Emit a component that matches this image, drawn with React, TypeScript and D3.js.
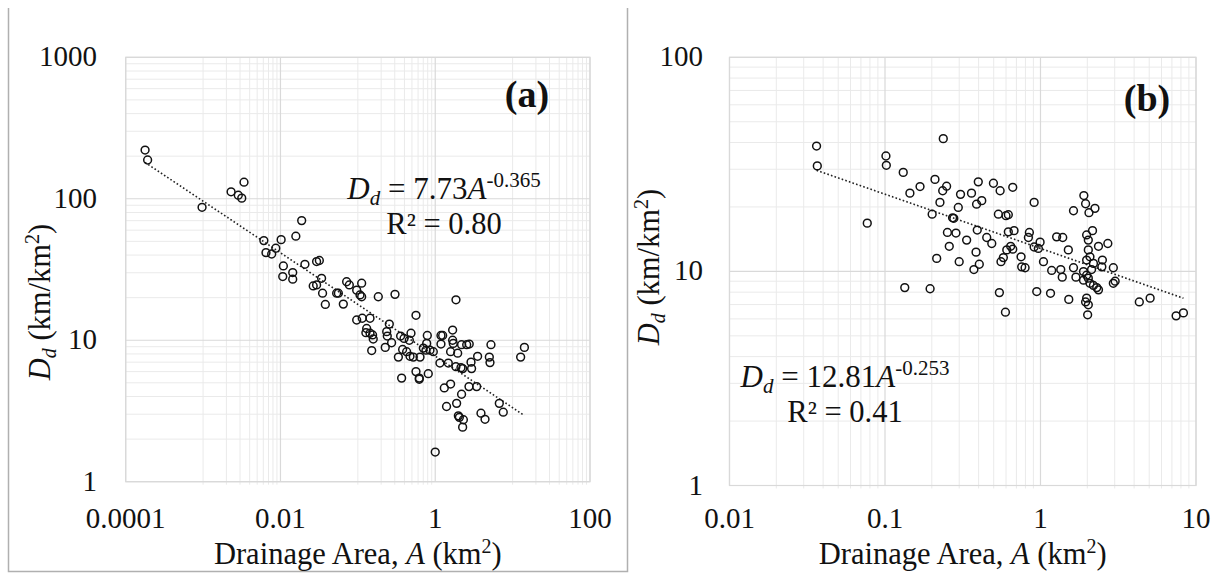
import React from 'react';
import * as d3 from 'd3';

// ---------- Panel (a) data ----------
const areaA = [0.000178, 0.000192, 0.00097, 0.0023, 0.00285, 0.00316, 0.00338, 0.0061, 0.0065, 0.0077, 0.0087, 0.0102, 0.0158, 0.0188, 0.0109, 0.0107, 0.0144, 0.0144, 0.0207, 0.0293, 0.0318, 0.034, 0.0293, 0.0265, 0.035, 0.038,
  0.0716, 0.0776, 0.112, 0.0966, 0.0532, 0.056, 0.1066, 0.112, 0.0649, 0.1837, 0.302, 1.854, 0.564, 0.0966, 0.114, 0.1436, 0.255, 0.13, 0.127, 0.1436, 0.155, 0.158, 0.236, 0.24, 0.226, 0.273, 0.151, 0.357, 0.395, 0.486, 0.463, 0.79, 0.775, 0.379, 0.427, 0.334, 0.472, 0.521, 0.636, 0.759, 0.855, 0.702, 0.944, 1.186, 1.247, 1.186, 1.678, 1.678, 1.71, 1.58, 1.95, 2.19, 2.55, 2.75, 1.15, 1.475, 1.85, 2.15, 2.26, 2.9, 2.95, 3.53, 5.0, 5.1, 5.25, 12.7, 14.2, 0.564, 0.622, 0.813, 0.368, 0.622, 1.31, 1.58, 2.73, 3.43, 2.19, 1.89, 1.4, 1.99, 2.05, 2.31, 2.26, 3.9, 4.4, 6.73, 7.57, 1.0];
const densA = [221, 188, 87, 112, 106, 101, 131, 50.6, 41.6, 40.7, 44.7, 51.4, 54.4, 70.1, 33.5, 28.2, 30.1, 27.0, 34.4, 36.0, 36.6, 27.4, 24.6, 24.2, 21.5, 17.9,
  25.9, 24.6, 25.3, 22.6, 21.5, 21.5, 20.9, 20.3, 18.0, 20.3, 21.1, 19.3, 15.0, 13.9, 14.3, 14.3, 13.0, 12.1, 11.3, 11.2, 10.9, 10.2, 11.5, 10.7, 8.9, 9.6, 8.45, 10.7, 10.3, 11.2, 10.0, 10.8, 9.5, 8.6, 8.3, 7.6, 7.7, 7.6, 7.6, 8.5, 8.5, 8.8, 8.3, 10.8, 10.8, 9.4, 11.8, 10.0, 9.5, 8.3, 8.1, 9.3, 9.3, 9.4, 6.9, 6.9, 6.5, 6.4, 6.3, 7.0, 6.3, 7.7, 7.6, 6.95, 9.3, 7.6, 8.9, 6.0, 5.4, 5.8, 5.4, 5.3, 4.6, 4.9, 4.7, 4.7, 4.15, 3.58, 3.4, 2.92, 2.85, 2.74, 2.43, 3.05, 2.76, 3.58, 3.1, 1.62];

// ---------- Panel (b) data ----------
const areaB = [0.0363, 0.0367, 0.1014, 0.102, 0.131, 0.0769, 0.237, 0.2096, 0.249, 0.235, 0.168, 0.1446, 0.2256, 0.306, 0.36, 0.398, 0.296, 0.388, 0.201, 0.272, 0.277, 0.392, 0.252, 0.286, 0.335, 0.259, 0.385, 0.215, 0.3, 0.373, 0.404, 0.134, 0.195,
  0.419, 0.498, 0.55, 0.663, 0.91, 0.536, 0.6, 0.621, 0.451, 0.486, 0.621, 0.676, 0.643, 0.607, 0.663, 0.557, 0.577, 0.75, 0.757, 0.796, 0.848, 0.836, 0.91, 0.994, 0.969, 1.045, 1.18, 1.35, 1.38, 1.27, 1.39, 1.51, 1.63, 1.69, 1.89, 0.544, 0.595, 0.946, 1.16, 1.52, 1.63, 1.9, 1.95, 2.24, 2.05, 1.98, 2.16, 2.03, 2.36, 2.71, 2.08, 1.98, 2.03, 2.5, 2.48, 2.19, 2.13, 1.89, 1.98, 2.03, 2.08, 2.19, 2.36, 2.3, 1.98, 1.95, 2.03, 2.01, 2.94, 2.94, 3.02, 4.32, 5.07, 7.45, 8.3];
const densB = [38.5, 31.1, 34.6, 31.3, 29.0, 16.8, 41.7, 26.9, 25.0, 23.8, 24.9, 23.2, 21.0, 22.9, 23.2, 26.2, 19.9, 20.6, 18.5, 17.8, 17.7, 15.6, 15.2, 15.1, 14.0, 13.1, 12.3, 11.5, 11.1, 10.2, 10.8, 8.4, 8.3,
  21.4, 25.8, 23.8, 24.7, 21.0, 18.5, 18.2, 18.4, 14.4, 13.5, 15.3, 15.5, 13.1, 12.6, 12.7, 11.1, 11.6, 11.7, 10.5, 10.4, 15.2, 14.4, 13.0, 13.7, 12.8, 11.1, 10.1, 10.2, 9.4, 14.5, 14.4, 12.6, 10.4, 9.4, 9.1, 7.96, 6.45, 8.05, 7.9, 7.4, 19.2, 22.6, 20.7, 19.7, 18.8, 14.8, 15.5, 14.0, 13.1, 13.5, 11.7, 11.3, 12.6, 11.3, 10.5, 10.9, 10.2, 9.98, 9.6, 9.3, 8.8, 8.6, 8.2, 8.4, 7.5, 7.2, 6.98, 6.27, 10.4, 8.8, 9.0, 7.2, 7.5, 6.2, 6.4];

// ---------- Ticks ----------
const xTicksA = [0.0001, 0.01, 1, 100];
const xTickLabelsA = ['0.0001', '0.01', '1', '100'];
const yTicksA = [1, 10, 100, 1000];
const yTickLabelsA = ['1', '10', '100', '1000'];
const xTicksB = [0.01, 0.1, 1, 10];
const xTickLabelsB = ['0.01', '0.1', '1', '10'];
const yTicksB = [1, 10, 100];
const yTickLabelsB = ['1', '10', '100'];

// minor grid: Excel-style
const minorXA: number[] = [];
[-3, -1, 1].forEach(n => { for (let k = 1; k <= 9; k++) minorXA.push(k * Math.pow(10, n)); });
const minorYA: number[] = [];
[0, 1, 2].forEach(n => { for (let k = 2; k <= 9; k++) minorYA.push(k * Math.pow(10, n)); });
const minorXB: number[] = [];
[-2, -1, 0].forEach(n => { for (let k = 2; k <= 9; k++) minorXB.push(k * Math.pow(10, n)); });
const minorYB: number[] = [];
[0, 1].forEach(n => { for (let k = 2; k <= 9; k++) minorYB.push(k * Math.pow(10, n)); });

// fits
const fitCoefA = 7.73, fitExpA = -0.365;
const fitCoefB = 12.81, fitExpB = -0.253;

const FONT = "'Liberation Serif', 'Times New Roman', Tinos, 'DejaVu Serif', serif";
const fontStyle = { fontFamily: FONT };
const TICK = 29;
const TITLE = 30.5;
const EQ = 31;
const SMALL = 20;

type PanelProps = {
  xs: d3.ScaleLogarithmic<number, number>;
  ys: d3.ScaleLogarithmic<number, number>;
  areas: number[]; dens: number[];
  xTicks: number[]; xLabels: string[];
  yTicks: number[]; yLabels: string[];
  minorX: number[]; minorY: number[];
  coef: number; exp: number;
  yLabelRight: number;
  xLabelY: number;
  yTitleX: number; yTitleY: number;
};

function Panel(p: PanelProps) {
  const [x0, x1] = p.xs.range();
  const [y0, y1] = p.ys.range();
  const pts = d3.range(Math.min(p.areas.length, p.dens.length)).map(i => [p.areas[i], p.dens[i]]);
  const amin = d3.min(p.areas) as number, amax = d3.max(p.areas) as number;
  const fitPts = d3.range(0, 61).map(i => {
    const a = Math.pow(10, Math.log10(amin) + (Math.log10(amax) - Math.log10(amin)) * i / 60);
    return [a, p.coef * Math.pow(a, p.exp)];
  });
  const line = d3.line<number[]>().x(d => p.xs(d[0])).y(d => p.ys(d[1]));
  const xMid = (x0 + x1) / 2;
  return (
    <g>
      <rect x={x0} y={y1} width={x1 - x0} height={y0 - y1} fill="#fff" />
      {p.minorX.map((v, i) => (
        <line key={'mx' + i} x1={p.xs(v)} x2={p.xs(v)} y1={y1} y2={y0 + 3} stroke="#eaeaea" strokeWidth={1} />
      ))}
      {p.minorY.map((v, i) => (
        <line key={'my' + i} x1={x0} x2={x1} y1={p.ys(v)} y2={p.ys(v)} stroke="#eaeaea" strokeWidth={1} />
      ))}
      {p.xTicks.map((v, i) => (
        <line key={'Mx' + i} x1={p.xs(v)} x2={p.xs(v)} y1={y1} y2={y0} stroke="#d9d9d9" strokeWidth={1.2} />
      ))}
      {p.yTicks.map((v, i) => (
        <line key={'My' + i} x1={x0} x2={x1} y1={p.ys(v)} y2={p.ys(v)} stroke="#d9d9d9" strokeWidth={1.2} />
      ))}
      <rect x={x0} y={y1} width={x1 - x0} height={y0 - y1} fill="none" stroke="#d9d9d9" strokeWidth={1.2} />
      <path d={line(fitPts) as string} fill="none" stroke="#222" strokeWidth={1.6} strokeDasharray="1.6,2.2" />
      {pts.map((d, i) => (
        <circle key={'p' + i} cx={p.xs(d[0])} cy={p.ys(d[1])} r={3.9} fill="none" stroke="#111" strokeWidth={1.5} />
      ))}
      {p.yTicks.map((v, i) => (
        <text key={'yl' + i} x={p.yLabelRight} y={p.ys(v) - 1} textAnchor="end" dominantBaseline="central"
          style={fontStyle} fontSize={TICK} fill="#111">{p.yLabels[i]}</text>
      ))}
      {p.xTicks.map((v, i) => (
        <text key={'xl' + i} x={p.xs(v)} y={p.xLabelY} textAnchor="middle"
          style={fontStyle} fontSize={TICK} fill="#111">{p.xLabels[i]}</text>
      ))}
      <text x={xMid} y={p.xLabelY + 36} textAnchor="middle" style={fontStyle} fontSize={TITLE} fill="#111">
        <tspan>Drainage Area, </tspan>
        <tspan fontStyle="italic">A</tspan>
        <tspan> (km</tspan>
        <tspan fontSize={SMALL} dy={-11}>2</tspan>
        <tspan dy={11}>)</tspan>
      </text>
      <text transform={`translate(${p.yTitleX},${p.yTitleY}) rotate(-90)`} textAnchor="middle"
        style={fontStyle} fontSize={TITLE} fill="#111">
        <tspan fontStyle="italic">D</tspan>
        <tspan fontStyle="italic" fontSize={SMALL} dy={6}>d</tspan>
        <tspan dy={-6}> (km/km</tspan>
        <tspan fontSize={SMALL} dy={-11}>2</tspan>
        <tspan dy={11}>)</tspan>
      </text>
    </g>
  );
}

function Equation({ x, y, coef, exp, r2 }: { x: number; y: number; coef: string; exp: string; r2: string }) {
  return (
    <g fill="#111">
      <text x={x} y={y} textAnchor="middle" fontSize={EQ} style={fontStyle}>
        <tspan fontStyle="italic">D</tspan>
        <tspan fontStyle="italic" fontSize={21} dy={6}>d</tspan>
        <tspan dy={-6}>{' = ' + coef}</tspan>
        <tspan fontStyle="italic">A</tspan>
        <tspan fontSize={21} dy={-12}>{exp}</tspan>
      </text>
      <text x={x} y={y + 35} textAnchor="middle" fontSize={30.5} style={fontStyle}>{'R² = ' + r2}</text>
    </g>
  );
}

export default function App() {
  const xsA = d3.scaleLog().domain([1e-4, 100]).range([125.7, 590]);
  const ysA = d3.scaleLog().domain([1, 1000]).range([481.7, 57.3]);
  const xsB = d3.scaleLog().domain([0.01, 10]).range([729.5, 1196]);
  const ysB = d3.scaleLog().domain([1, 100]).range([485.5, 57.3]);
  return (
    <svg width={1219} height={574} style={{ position: 'absolute', left: 0, top: 0, background: '#fff', fontFamily: FONT }}>
      <rect x={0} y={0} width={1219} height={574} fill="#fff" />
      {/* frame around panel (a) */}
      <path d="M8.5,8 L8.5,571.5 L627.5,571.5 L627.5,8" fill="none" stroke="#b0b0b0" strokeWidth={1.5} />
      <Panel xs={xsA} ys={ysA} areas={areaA} dens={densA}
        xTicks={xTicksA} xLabels={xTickLabelsA} yTicks={yTicksA} yLabels={yTickLabelsA}
        minorX={minorXA} minorY={minorYA} coef={fitCoefA} exp={fitExpA}
        yLabelRight={97} xLabelY={527.5} yTitleX={50} yTitleY={302} />
      <Panel xs={xsB} ys={ysB} areas={areaB} dens={densB}
        xTicks={xTicksB} xLabels={xTickLabelsB} yTicks={yTicksB} yLabels={yTickLabelsB}
        minorX={minorXB} minorY={minorYB} coef={fitCoefB} exp={fitExpB}
        yLabelRight={703} xLabelY={527.5} yTitleX={659} yTitleY={267} />
      <Equation x={444} y={199} coef="7.73" exp="-0.365" r2="0.80" />
      <Equation x={845} y={387} coef="12.81" exp="-0.253" r2="0.41" />
      <text x={527} y={107} textAnchor="middle" style={fontStyle} fontWeight="bold" fontSize={38} fill="#111">(a)</text>
      <text x={1147} y={111} textAnchor="middle" style={fontStyle} fontWeight="bold" fontSize={38} fill="#111">(b)</text>
    </svg>
  );
}
